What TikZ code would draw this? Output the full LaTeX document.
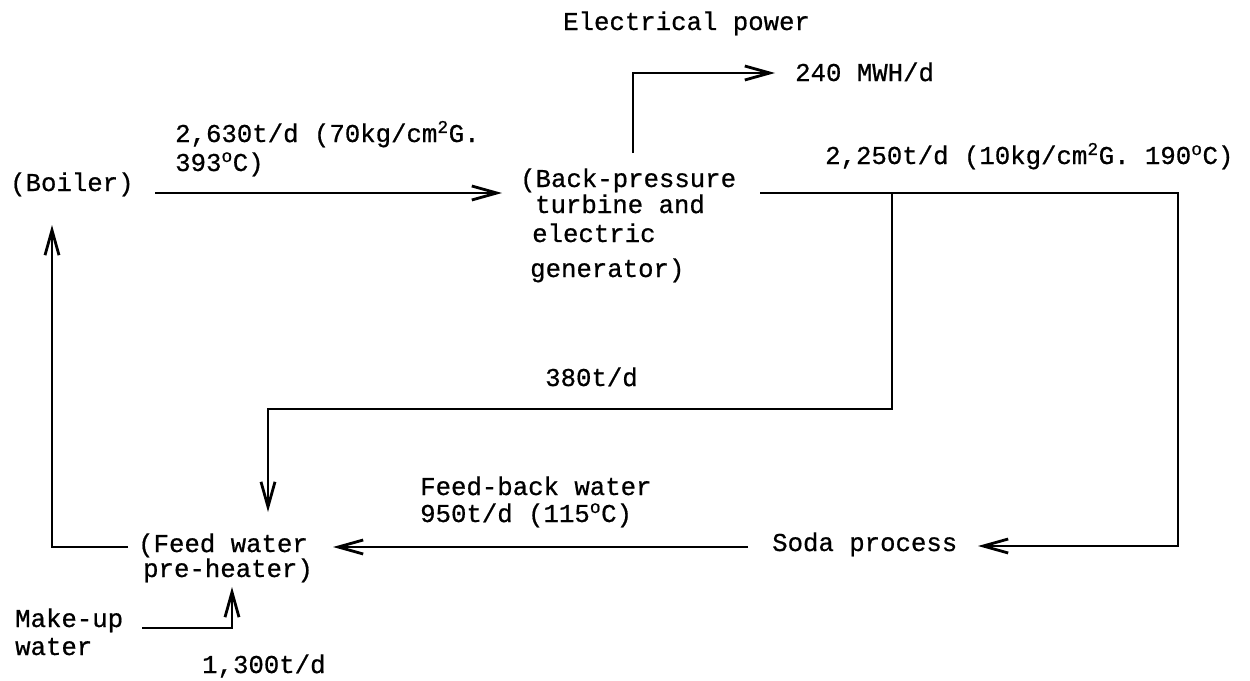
\documentclass[tikz,border=0pt]{standalone}
\usepackage{fontspec}
\newfontfamily\typew[FakeBold=0.7]{Liberation Mono}
\usetikzlibrary{arrows.meta}
\begin{document}
\begin{tikzpicture}[x=1pt,y=-1pt,
  txt/.style={font=\typew\fontsize{25.7}{26}\selectfont, inner sep=0pt, anchor=base west},
  pipe/.style={line width=2.8pt, line join=miter},
  flow/.style={pipe, -{Straight Barb[length=25pt,width=14pt]}}]
\useasboundingbox (0,0) rectangle (1250,680);
% text nodes
\node[txt] (elec) at (563,30) {Electrical power};
\node[txt] (power) at (795,81) {240 MWH/d};
\node[txt] (boiler) at (10,191) {(Boiler)};
\node[txt] (steamA) at (175,142) {2,630t/d (70kg/cm\textsuperscript{2}G.};
\node[txt] (steamB) at (175,171) {393\textsuperscript{o}C)};
\node[txt] (turb1) at (520,187) {(Back-pressure};
\node[txt] (turb2) at (535,213) {turbine and};
\node[txt] (turb3) at (532,242) {electric};
\node[txt] (turb4) at (530,277) {generator)};
\node[txt] (lowp) at (825,164) {2,250t/d (10kg/cm\textsuperscript{2}G. 190\textsuperscript{o}C)};
\node[txt] (split) at (545,386) {380t/d};
\node[txt] (fbA) at (420,495) {Feed-back water};
\node[txt] (fbB) at (420,522) {950t/d (115\textsuperscript{o}C)};
\node[txt] (soda) at (772,551) {Soda process};
\node[txt] (pre1) at (138,552) {(Feed water};
\node[txt] (pre2) at (143,577) {pre-heater)};
\node[txt] (mk1) at (15,627) {Make-up};
\node[txt] (mk2) at (15,655) {water};
\node[txt] (mkq) at (202,673) {1,300t/d};
% connector ends
\coordinate (boOut) at (155,193);
\coordinate (tuIn) at (502,193);
\coordinate (tuTop) at (633,153);
\coordinate (pwCorner) at (633,73);
\coordinate (pwIn) at (775,73);
\coordinate (tuOut) at (760,193);
\coordinate (branch) at (892,193);
\coordinate (rCorner) at (1178,193);
\coordinate (rCorner2) at (1178,546);
\coordinate (sodaIn) at (978,546);
\coordinate (brCorner) at (892,409);
\coordinate (brCorner2) at (268,409);
\coordinate (preInTop) at (268,512);
\coordinate (sodaOut) at (748,547);
\coordinate (preInR) at (333,547);
\coordinate (preOut) at (128,547);
\coordinate (lCorner) at (52,547);
\coordinate (boIn) at (52,225);
\coordinate (mkOut) at (142,628);
\coordinate (mkCorner) at (232,628);
\coordinate (preInB) at (232,587);
% connectors
\draw[flow] (boOut) -- (tuIn);
\draw[flow] (tuTop) -- (pwCorner) -- (pwIn);
\draw[flow] (tuOut) -- (rCorner) -- (rCorner2) -- (sodaIn);
\draw[flow] (branch) -- (brCorner) -- (brCorner2) -- (preInTop);
\draw[flow] (sodaOut) -- (preInR);
\draw[flow] (preOut) -- (lCorner) -- (boIn);
\draw[flow] (mkOut) -- (mkCorner) -- (preInB);
\end{tikzpicture}
\end{document}
